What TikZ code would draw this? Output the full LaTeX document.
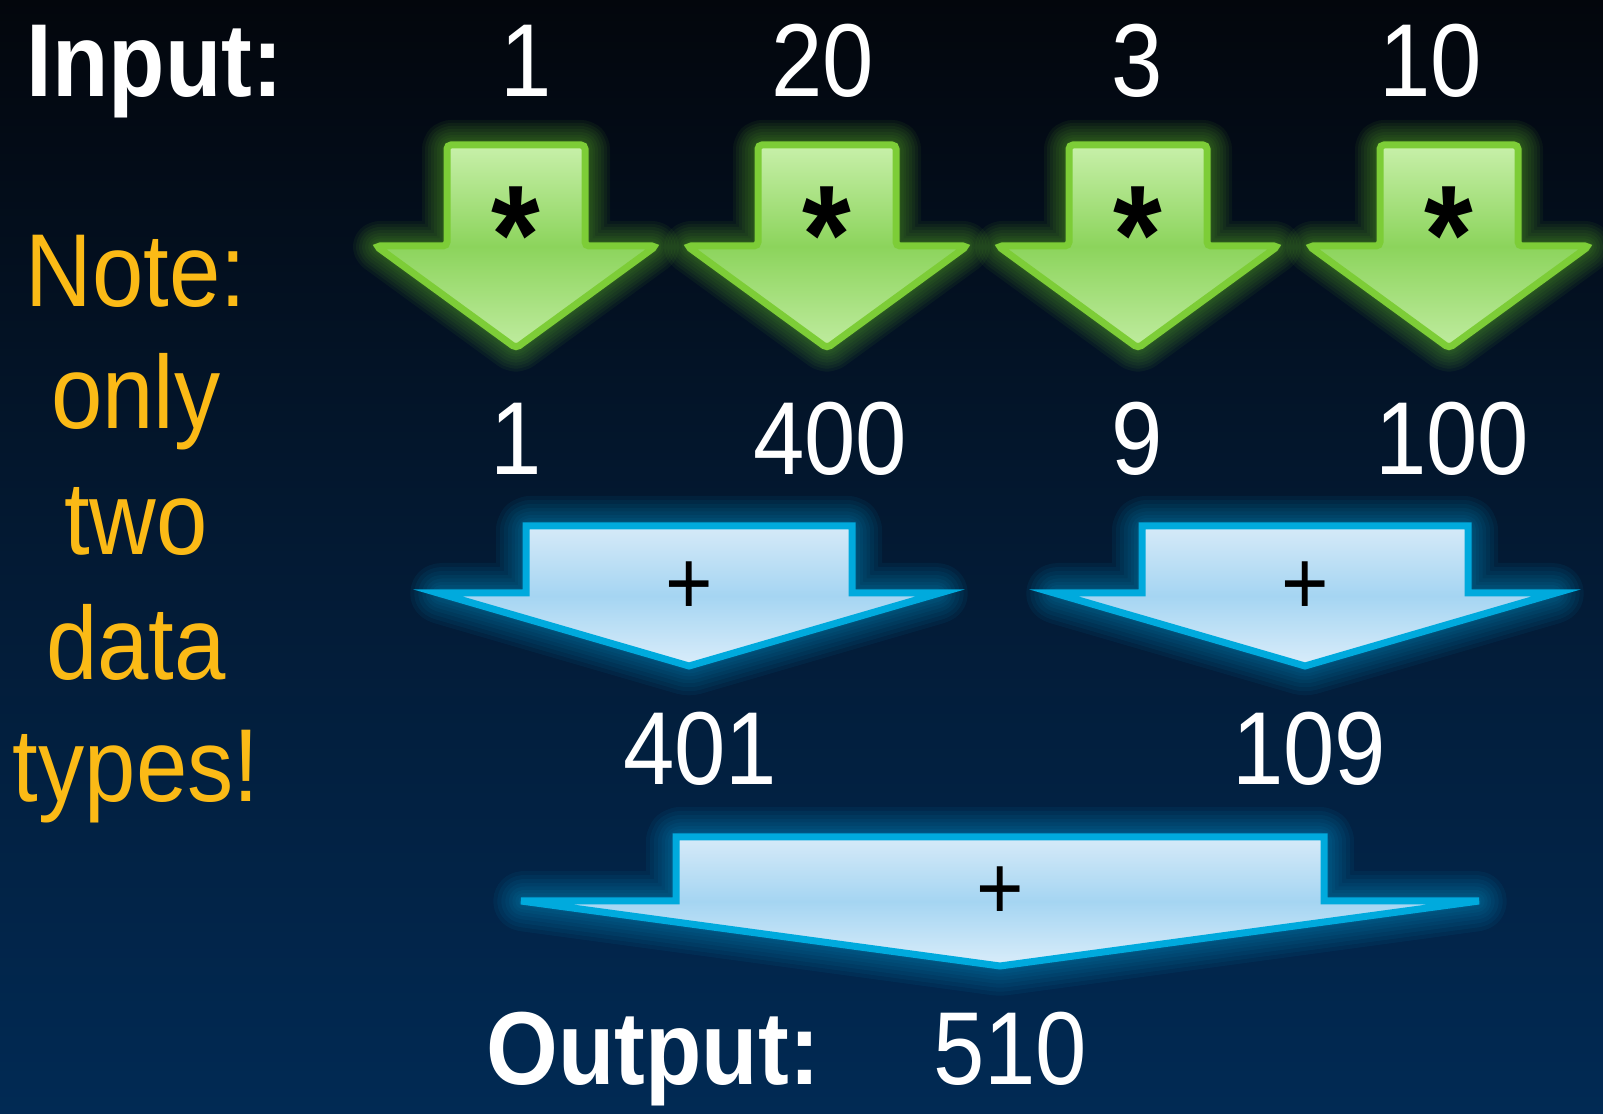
\documentclass[tikz,border=0pt]{standalone}
\usepackage{fontspec}
\setmainfont{Liberation Sans}[FakeStretch=0.89]
\usepackage{xcolor}
\usepackage{tikz}
\usetikzlibrary{positioning}

\definecolor{bgtop}{RGB}{3,6,12}
\definecolor{bgmid}{RGB}{3,26,52}
\definecolor{bgbot}{RGB}{1,42,84}
\definecolor{noteorange}{RGB}{251,186,22}
\definecolor{greenline}{RGB}{125,205,55}
\definecolor{greenglowc}{RGB}{95,180,40}
\definecolor{greentop}{RGB}{200,240,170}
\definecolor{greenmid}{RGB}{140,212,92}
\definecolor{greenbot}{RGB}{192,236,160}
\definecolor{blueline}{RGB}{0,170,221}
\definecolor{blueglowc}{RGB}{0,155,210}
\definecolor{bluetop}{RGB}{214,234,248}
\definecolor{bluemid}{RGB}{165,213,242}
\definecolor{bluebot}{RGB}{218,237,250}

% centre, shaft half, head half, top, head base, tip
\newcommand{\fatarrow}[6]{(#1-#2,#4) -- (#1+#2,#4) -- (#1+#2,#5) -- (#1+#3,#5) -- (#1,#6) -- (#1-#3,#5) -- (#1-#2,#5) -- cycle}

\begin{document}
\begin{tikzpicture}[x=0.1mm, y=-0.1mm]
    \tikzstyle{num} = [text=white, font=\fontsize{29.5}{36}\selectfont, anchor=base, inner sep=0pt]
    \tikzstyle{bigword} = [num, font=\fontsize{29.5}{36}\selectfont\bfseries, anchor=base west]
    \tikzstyle{notetext} = [num, text=noteorange]
    \tikzstyle{op} = [text=black, anchor=north, inner sep=0pt]
    \tikzstyle{greenarrow} = [draw=greenline, line width=0.7mm, rounded corners=0.4mm, top color=greentop, bottom color=greenbot, middle color=greenmid]
    \tikzstyle{bluearrow} = [draw=blueline, line width=0.7mm, top color=bluetop, bottom color=bluebot, middle color=bluemid]
    \tikzstyle{glow} = [line join=round, rounded corners=0.4mm, draw opacity=0.07]

    \useasboundingbox (0,0) rectangle (1603,1114);
    \shade[top color=bgtop, bottom color=bgbot, middle color=bgmid] (0,0) rectangle (1603,1114);

    % squaring step
    \foreach \c [count=\i] in {516, 827, 1138, 1449} {
        \foreach \w in {5mm, 4.4mm, 3.8mm, 3.2mm, 2.6mm, 2mm, 1.5mm, 1mm}
            \draw[glow, draw=greenglowc, line width=\w] \fatarrow{\c}{69}{140}{145}{246}{348};
        \draw[greenarrow] \fatarrow{\c}{69}{140}{145}{246}{348};
        \node[op, font=\fontsize{40}{44}\selectfont\bfseries] (mul\i) at (\c,186) {*};
    }

    % adding steps
    \foreach \c/\s/\h/\t/\b/\p/\y [count=\i] in {689/163/251/526/593/666/561, 1305/163/251/526/593/666/561, 1000/324/479/837/901/966/866} {
        \foreach \w in {6mm, 5.2mm, 4.4mm, 3.6mm, 2.9mm, 2.2mm, 1.6mm, 1mm}
            \draw[glow, draw=blueglowc, line width=\w] \fatarrow{\c}{\s}{\h}{\t}{\b}{\p};
        \draw[bluearrow] \fatarrow{\c}{\s}{\h}{\t}{\b}{\p};
        \node[op, font=\fontsize{26}{30}\selectfont] (add\i) at (\c,\y) {+};
    }

    \node[bigword] (input) at (26,97) {Input:};
    \node[num] (in1) at (526,97) {1};
    \node[num] (in2) at (823,97) {20};
    \node[num] (in3) at (1137,97) {3};
    \node[num] (in4) at (1431,97) {10};

    \node[num] (sq1) at (516,475) {1};
    \node[num] (sq2) at (830,475) {400};
    \node[num] (sq3) at (1137,475) {9};
    \node[num] (sq4) at (1452,475) {100};

    \node[num] (sum1) at (700,785) {401};
    \node[num] (sum2) at (1309,785) {109};

    \node[bigword] (output) at (486,1084) {Output:};
    \node[num] (result) at (1010,1084) {510};

    % side remark
    \foreach \txt/\y [count=\i] in {Note:/307, only/429, two/555, data/680, types!/802}
        \node[notetext] (note\i) at (136,\y) {\txt};
\end{tikzpicture}
\end{document}
